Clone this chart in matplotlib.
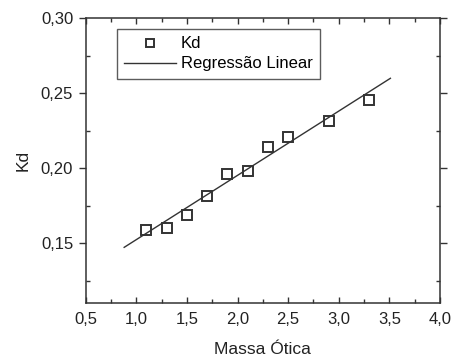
import numpy as np
import matplotlib.pyplot as plt
from matplotlib.ticker import MultipleLocator, FuncFormatter

# --- dados ---
massa_otica = [1.1, 1.3, 1.5, 1.7, 1.9, 2.1, 2.3, 2.5, 2.9, 3.3]
kd = [0.1589, 0.1604, 0.1691, 0.1815, 0.1960, 0.1984, 0.2142, 0.2211, 0.2317, 0.2457]

# extremos da reta de regressão
reg_x = [0.88, 3.51]
reg_y = [0.1473, 0.2600]

plt.rcParams['font.family'] = ['Liberation Sans', 'DejaVu Sans']
cor = '#333333'

fig = plt.figure(figsize=(4.53, 3.58), dpi=100)
ax = fig.add_axes([85.7 / 453, 1 - 303.3 / 358, (440 - 85.7) / 453, (303.3 - 18.3) / 358])

ax.plot(massa_otica, kd, 's', mfc='none', mec=cor, mew=1.4, ms=7, label='Kd')
ax.plot(reg_x, reg_y, '-', color=cor, lw=1.0, label='Regressão Linear')

ax.set_xlim(0.5, 4.0)
ax.set_ylim(0.11, 0.30)
ax.xaxis.set_major_locator(MultipleLocator(0.5))
ax.xaxis.set_minor_locator(MultipleLocator(0.25))
ax.yaxis.set_major_locator(MultipleLocator(0.05))
ax.yaxis.set_minor_locator(MultipleLocator(0.025))
ax.xaxis.set_major_formatter(FuncFormatter(lambda v, p: f'{v:.1f}'.replace('.', ',')))
ax.yaxis.set_major_formatter(FuncFormatter(lambda v, p: f'{v:.2f}'.replace('.', ',')))

ax.tick_params(which='both', direction='in', top=True, right=True, colors=cor,
               labelcolor='#222222', labelsize=12, width=1)
ax.tick_params(which='minor', length=3)
ax.tick_params(which='major', length=4)
ax.tick_params(axis='y', which='major', direction='out', length=5, pad=4)
ax.tick_params(axis='x', which='major', pad=6)
for s in ax.spines.values():
    s.set_color(cor)
    s.set_linewidth(1.1)

ax.set_xlabel('Massa Ótica', fontsize=12.5, color='#222222', labelpad=11)
ax.set_ylabel('Kd', fontsize=12.5, color='#222222', labelpad=7)

leg = ax.legend(loc='upper left', bbox_to_anchor=(0.088, 0.963), fontsize=12,
                frameon=True, fancybox=False, edgecolor=cor, handlelength=3.1,
                borderpad=0.45, borderaxespad=0, labelspacing=0.3, handletextpad=0.3,
                markerscale=0.75)
leg.get_frame().set_linewidth(1.0)

fig.savefig('out.png', dpi=100)
